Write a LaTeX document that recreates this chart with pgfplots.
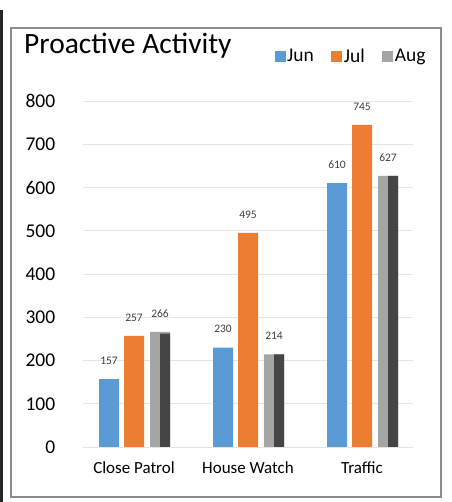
\documentclass[border=0pt]{standalone}
\usepackage{pgfplots}
\pgfplotsset{compat=1.18}
\usepackage{fontspec}
\setmainfont{Carlito}
\definecolor{jun}{HTML}{5B9BD5}
\definecolor{jul}{HTML}{ED7D31}
\definecolor{aug}{HTML}{A5A5A5}
\definecolor{augdark}{HTML}{454545}
\definecolor{lbl}{HTML}{404040}
\definecolor{framec}{HTML}{8C8C8C}

\begin{document}
\begin{tikzpicture}
% page and chart frame
\path[fill=white] (0pt,0pt) rectangle (451pt,502pt);
\fill[black!85] (0pt,0pt) rectangle (3pt,492pt);
\draw[color=framec, line width=1.3pt] (11pt,5pt) rectangle (441pt,474pt);
\node[anchor=west, font=\fontsize{29.5}{33}\selectfont, inner sep=0pt] at (24pt,456pt) {Proactive Activity};
\begin{axis}[
  at={(82.7pt,55pt)}, anchor=south west, scale only axis,
  width=330.6pt, height=346pt,
  xmin=-0.45, xmax=2.45, ymin=0, ymax=800,
  ytick={0,100,...,800},
  xtick={0,1,2}, xticklabels={Close Patrol, House Watch, Traffic},
  /pgf/number format/assume math mode=true,
  axis line style={draw=none}, major tick length=0pt,
  ymajorgrids, grid style={color=black!10, line width=0.7pt},
  yticklabel style={font=\fontsize{19.5}{22}\selectfont, color=black, xshift=-24pt},
  xticklabel style={font=\fontsize{17}{20}\selectfont, color=black, yshift=-11pt},
  ybar, bar width=20pt,
  nodes near coords,
  every node near coord/.append style={font=\fontsize{11.5}{13}\selectfont, color=lbl, yshift=11pt},
  legend style={draw=none, fill=none, at={(axis description cs:0.571,1.13)}, anchor=west,
    legend columns=3, font=\fontsize{19.5}{22}\selectfont,
    nodes={inner xsep=1.5pt},
    /tikz/every even column/.append style={column sep=16pt}},
  legend image code/.code={\fill[#1] (0pt,-5.5pt) rectangle (11pt,5.5pt);},
]
\addplot[fill=jun, draw=none, bar shift=-25pt] coordinates {(0,157) (1,230) (2,610)};
\addlegendentry{Jun}
\addplot[fill=jul, draw=none, bar shift=0pt] coordinates {(0,257) (1,495) (2,745)};
\addlegendentry{Jul}
\addplot[fill=aug, draw=none, bar shift=26pt] coordinates {(0,266) (1,214) (2,627)};
\addlegendentry{Aug}
\addplot[fill=augdark, draw=none, bar shift=31pt, bar width=10pt, nodes near coords=\empty, forget plot] coordinates {(0,262) (1,214) (2,627)};
\end{axis}
\end{tikzpicture}
\end{document}
